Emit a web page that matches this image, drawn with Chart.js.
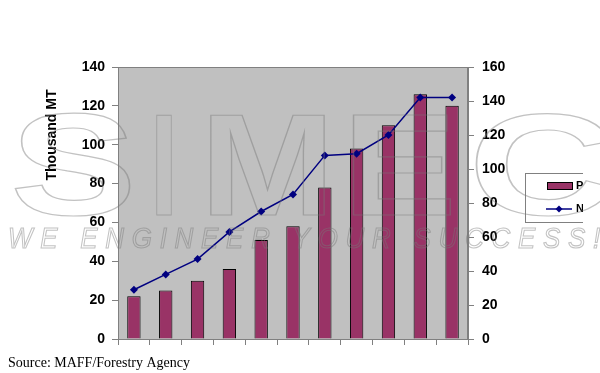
<!DOCTYPE html>
<html>
<head>
<meta charset="utf-8">
<script src="https://cdn.jsdelivr.net/npm/chart.js@4/dist/chart.umd.min.js"></script>
<style>
html, body { margin: 0; padding: 0; background: #fff; }
#wrap { width: 600px; height: 373px; }
</style>
</head>
<body>
<div id="wrap"><canvas id="chart" width="600" height="373"></canvas></div>
<script>
// values (x labels are cut off in the source image)
var categories = ['1', '2', '3', '4', '5', '6', '7', '8', '9', '10', '11'];
var production = [22, 25, 30, 36, 51, 58, 78, 98, 110, 126, 120];
var numberSeries = [29, 38, 47, 63, 75, 85, 108, 109, 120, 142, 142];
var seriesNames = ['Production', 'Number'];
var leftAxisTitle = 'Thousand MT';
var sourceNote = 'Source: MAFF/Forestry Agency';

// grey plot area + frame
var plotBackground = {
  id: 'plotBackground',
  beforeDraw: function(chart) {
    var a = chart.chartArea, ctx = chart.ctx;
    ctx.save();
    ctx.fillStyle = '#c0c0c0';
    ctx.fillRect(a.left, a.top, a.right - a.left, a.bottom - a.top);
    ctx.restore();
  },
  afterDatasetsDraw: function(chart) {
    var a = chart.chartArea, ctx = chart.ctx;
    ctx.save();
    ctx.strokeStyle = '#808080';
    ctx.lineWidth = 1;
    ctx.strokeRect(a.left + 0.5, a.top + 0.5, a.right - a.left - 1, a.bottom - a.top);
    ctx.restore();
  }
};

// axis title, source line, the clipped legend and the watermark
var extras = {
  id: 'extras',
  afterDraw: function(chart) {
    var ctx = chart.ctx;
    ctx.save();

    // left axis title
    ctx.translate(52, 135);
    ctx.rotate(-Math.PI / 2);
    ctx.fillStyle = '#000';
    ctx.font = 'bold 14px "Liberation Sans", Arial, sans-serif';
    ctx.textAlign = 'center';
    ctx.textBaseline = 'middle';
    ctx.fillText(leftAxisTitle, 0, 0);
    ctx.restore();

    // source
    ctx.save();
    ctx.fillStyle = '#000';
    ctx.font = '14px "Liberation Serif", "Times New Roman", serif';
    ctx.textBaseline = 'alphabetic';
    ctx.fillText(sourceNote, 8, 367);
    ctx.restore();

    // legend (the original picture is cut at x = 583)
    ctx.save();
    ctx.beginPath();
    ctx.rect(0, 0, 583, 373);
    ctx.clip();
    ctx.fillStyle = '#fff';
    ctx.fillRect(525, 173, 120, 49);
    ctx.strokeStyle = '#808080';
    ctx.lineWidth = 1;
    ctx.strokeRect(525.5, 173.5, 120, 49);
    ctx.fillStyle = '#993366';
    ctx.fillRect(547, 182, 25, 8);
    ctx.strokeStyle = '#000';
    ctx.strokeRect(547.5, 182.5, 25, 7);
    ctx.strokeStyle = '#000080';
    ctx.lineWidth = 1.5;
    ctx.beginPath();
    ctx.moveTo(546, 209);
    ctx.lineTo(572, 209);
    ctx.stroke();
    ctx.fillStyle = '#000080';
    ctx.beginPath();
    ctx.moveTo(559, 205.5); ctx.lineTo(562.5, 209); ctx.lineTo(559, 212.5); ctx.lineTo(555.5, 209);
    ctx.closePath();
    ctx.fill();
    ctx.fillStyle = '#000';
    ctx.font = 'bold 11px "Liberation Sans", Arial, sans-serif';
    ctx.textBaseline = 'middle';
    ctx.fillText(seriesNames[0], 576, 186);
    ctx.fillText(seriesNames[1], 576, 209);
    ctx.restore();

    // watermark
    ctx.save();
    ctx.strokeStyle = 'rgba(120,120,120,0.45)';
    ctx.lineWidth = 1.2;
    ctx.font = 'bold 144px "Liberation Sans", Arial, sans-serif';
    ctx.textBaseline = 'alphabetic';
    var letters = [['S', 10, 127], ['I', 150, 28], ['M', 200, 135], ['E', 342, 115], ['C', 468, 150]];
    letters.forEach(function(l) {
      var w = ctx.measureText(l[0]).width;
      ctx.save();
      ctx.translate(l[1], 215);
      ctx.scale(l[2] / w, 1);
      ctx.strokeText(l[0], 0, 0);
      ctx.restore();
    });
    ctx.font = 'italic 30px "Liberation Sans", Arial, sans-serif';
    ctx.letterSpacing = '9px';
    var tag = 'WE ENGINEER YOUR SUCCESS!';
    var tw = ctx.measureText(tag).width;
    ctx.translate(8, 248);
    ctx.scale(600 / tw, 1);
    ctx.strokeText(tag, 0, 0);
    ctx.restore();
  }
};

var tickFont = { family: '"Liberation Sans", Arial, sans-serif', size: 14, weight: 'bold' };

new Chart(document.getElementById('chart'), {
  data: {
    labels: categories,
    datasets: [
      {
        type: 'line',
        label: seriesNames[1],
        data: numberSeries,
        yAxisID: 'y1',
        borderColor: '#000080',
        backgroundColor: '#000080',
        borderWidth: 1.5,
        pointStyle: 'rectRot',
        pointRadius: 4,
        pointBorderWidth: 0,
        tension: 0,
        order: 0
      },
      {
        type: 'bar',
        label: seriesNames[0],
        data: production,
        yAxisID: 'y',
        backgroundColor: '#993366',
        borderColor: '#000',
        borderWidth: 1,
        categoryPercentage: 1,
        barPercentage: 0.42,
        order: 1
      }
    ]
  },
  options: {
    responsive: false,
    animation: false,
    layout: { padding: { top: 67, bottom: 28, left: 0, right: 0 } },
    plugins: {
      legend: { display: false },
      tooltip: { enabled: false }
    },
    scales: {
      x: {
        offset: true,
        grid: { offset: true, drawOnChartArea: false, drawTicks: true, tickLength: 6, color: '#808080' },
        border: { color: '#808080' },
        ticks: { display: false },
        afterFit: function(s) { s.height = 6; }
      },
      y: {
        position: 'left',
        min: 0,
        max: 140,
        ticks: { stepSize: 20, font: tickFont, color: '#000', padding: 7 },
        grid: { drawOnChartArea: false, tickLength: 6, color: '#808080' },
        border: { color: '#808080' },
        afterFit: function(s) { s.width = 118; }
      },
      y1: {
        position: 'right',
        min: 0,
        max: 160,
        ticks: { stepSize: 20, font: tickFont, color: '#000', padding: 8 },
        grid: { drawOnChartArea: false, tickLength: 6, color: '#808080' },
        border: { color: '#808080' },
        afterFit: function(s) { s.width = 132; }
      }
    }
  },
  plugins: [plotBackground, extras]
});
</script>
</body>
</html>
